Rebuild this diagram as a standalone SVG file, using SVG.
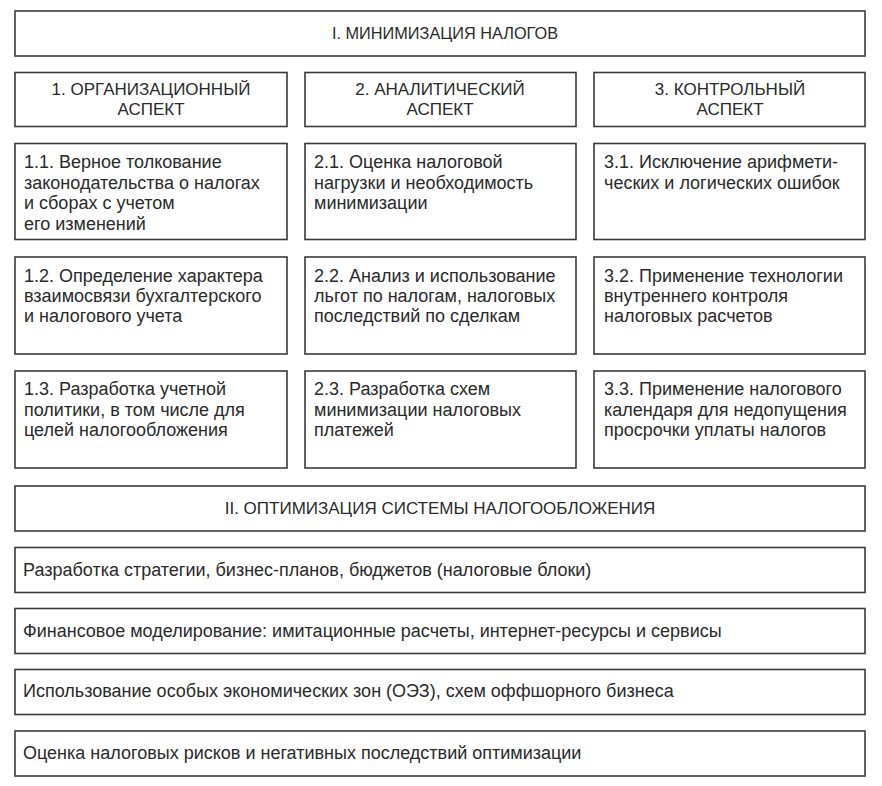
<svg xmlns="http://www.w3.org/2000/svg" width="882" height="786" viewBox="0 0 882 786">
<style>
rect{fill:#fff;stroke:#3a3a3a;stroke-width:1.6}
text{font-family:"Liberation Sans",Arial,sans-serif;font-size:18px;fill:#2a2a2a}
.c{text-anchor:middle;font-size:17px}
</style>
<rect x="0" y="0" width="882" height="786" style="stroke:none"/>
<g id="n-I"><rect x="15" y="11" width="850" height="45"/><text class="c" x="445" y="39" style="font-size:16.3px">I. МИНИМИЗАЦИЯ НАЛОГОВ</text></g>
<g id="n-a1"><rect x="15" y="72.5" width="272" height="54"/><text class="c" x="151" y="95">1. ОРГАНИЗАЦИОННЫЙ</text><text class="c" x="151" y="115">АСПЕКТ</text></g>
<g id="n-a2"><rect x="305" y="72.5" width="271" height="54"/><text class="c" x="440" y="95">2. АНАЛИТИЧЕСКИЙ</text><text class="c" x="440" y="115">АСПЕКТ</text></g>
<g id="n-a3"><rect x="594" y="72.5" width="271" height="54"/><text class="c" x="730" y="95">3. КОНТРОЛЬНЫЙ</text><text class="c" x="730" y="115">АСПЕКТ</text></g>
<g id="n-11"><rect x="15" y="143.5" width="272" height="96"/><text x="24" y="168">1.1. Верное толкование</text><text x="24" y="189">законодательства о налогах</text><text x="24" y="209">и сборах с учетом</text><text x="24" y="230">его изменений</text></g>
<g id="n-21"><rect x="305" y="143.5" width="271" height="96"/><text x="314" y="168">2.1. Оценка налоговой</text><text x="314" y="189">нагрузки и необходимость</text><text x="314" y="209">минимизации</text></g>
<g id="n-31"><rect x="594" y="143.5" width="271" height="96"/><text x="604" y="168">3.1. Исключение арифмети-</text><text x="604" y="189">ческих и логических ошибок</text></g>
<g id="n-12"><rect x="15" y="257" width="272" height="97"/><text x="24" y="282">1.2. Определение характера</text><text x="24" y="302">взаимосвязи бухгалтерского</text><text x="24" y="322">и налогового учета</text></g>
<g id="n-22"><rect x="305" y="257" width="271" height="97"/><text x="314" y="282">2.2. Анализ и использование</text><text x="314" y="302">льгот по налогам, налоговых</text><text x="314" y="322">последствий по сделкам</text></g>
<g id="n-32"><rect x="594" y="257" width="271" height="97"/><text x="604" y="282">3.2. Применение технологии</text><text x="604" y="302">внутреннего контроля</text><text x="604" y="322">налоговых расчетов</text></g>
<g id="n-13"><rect x="15" y="371" width="272" height="97"/><text x="24" y="395">1.3. Разработка учетной</text><text x="24" y="416">политики, в том числе для</text><text x="24" y="436">целей налогообложения</text></g>
<g id="n-23"><rect x="305" y="371" width="271" height="97"/><text x="314" y="395">2.3. Разработка схем</text><text x="314" y="416">минимизации налоговых</text><text x="314" y="436">платежей</text></g>
<g id="n-33"><rect x="594" y="371" width="271" height="97"/><text x="604" y="395">3.3. Применение налогового</text><text x="604" y="416">календаря для недопущения</text><text x="604" y="436">просрочки уплаты налогов</text></g>
<g id="n-II"><rect x="15" y="486" width="850" height="45"/><text class="c" x="440" y="514">II. ОПТИМИЗАЦИЯ СИСТЕМЫ НАЛОГООБЛОЖЕНИЯ</text></g>
<g id="n-o1"><rect x="15" y="547.5" width="850" height="45"/><text x="23" y="576">Разработка стратегии, бизнес-планов, бюджетов (налоговые блоки)</text></g>
<g id="n-o2"><rect x="15" y="608.5" width="850" height="45"/><text x="23" y="637">Финансовое моделирование: имитационные расчеты, интернет-ресурсы и сервисы</text></g>
<g id="n-o3"><rect x="15" y="669.5" width="850" height="45"/><text x="23" y="697">Использование особых экономических зон (ОЭЗ), схем оффшорного бизнеса</text></g>
<g id="n-o4"><rect x="15" y="731" width="850" height="45"/><text x="23" y="759">Оценка налоговых рисков и негативных последствий оптимизации</text></g>
<g id="connectors"></g>
</svg>
